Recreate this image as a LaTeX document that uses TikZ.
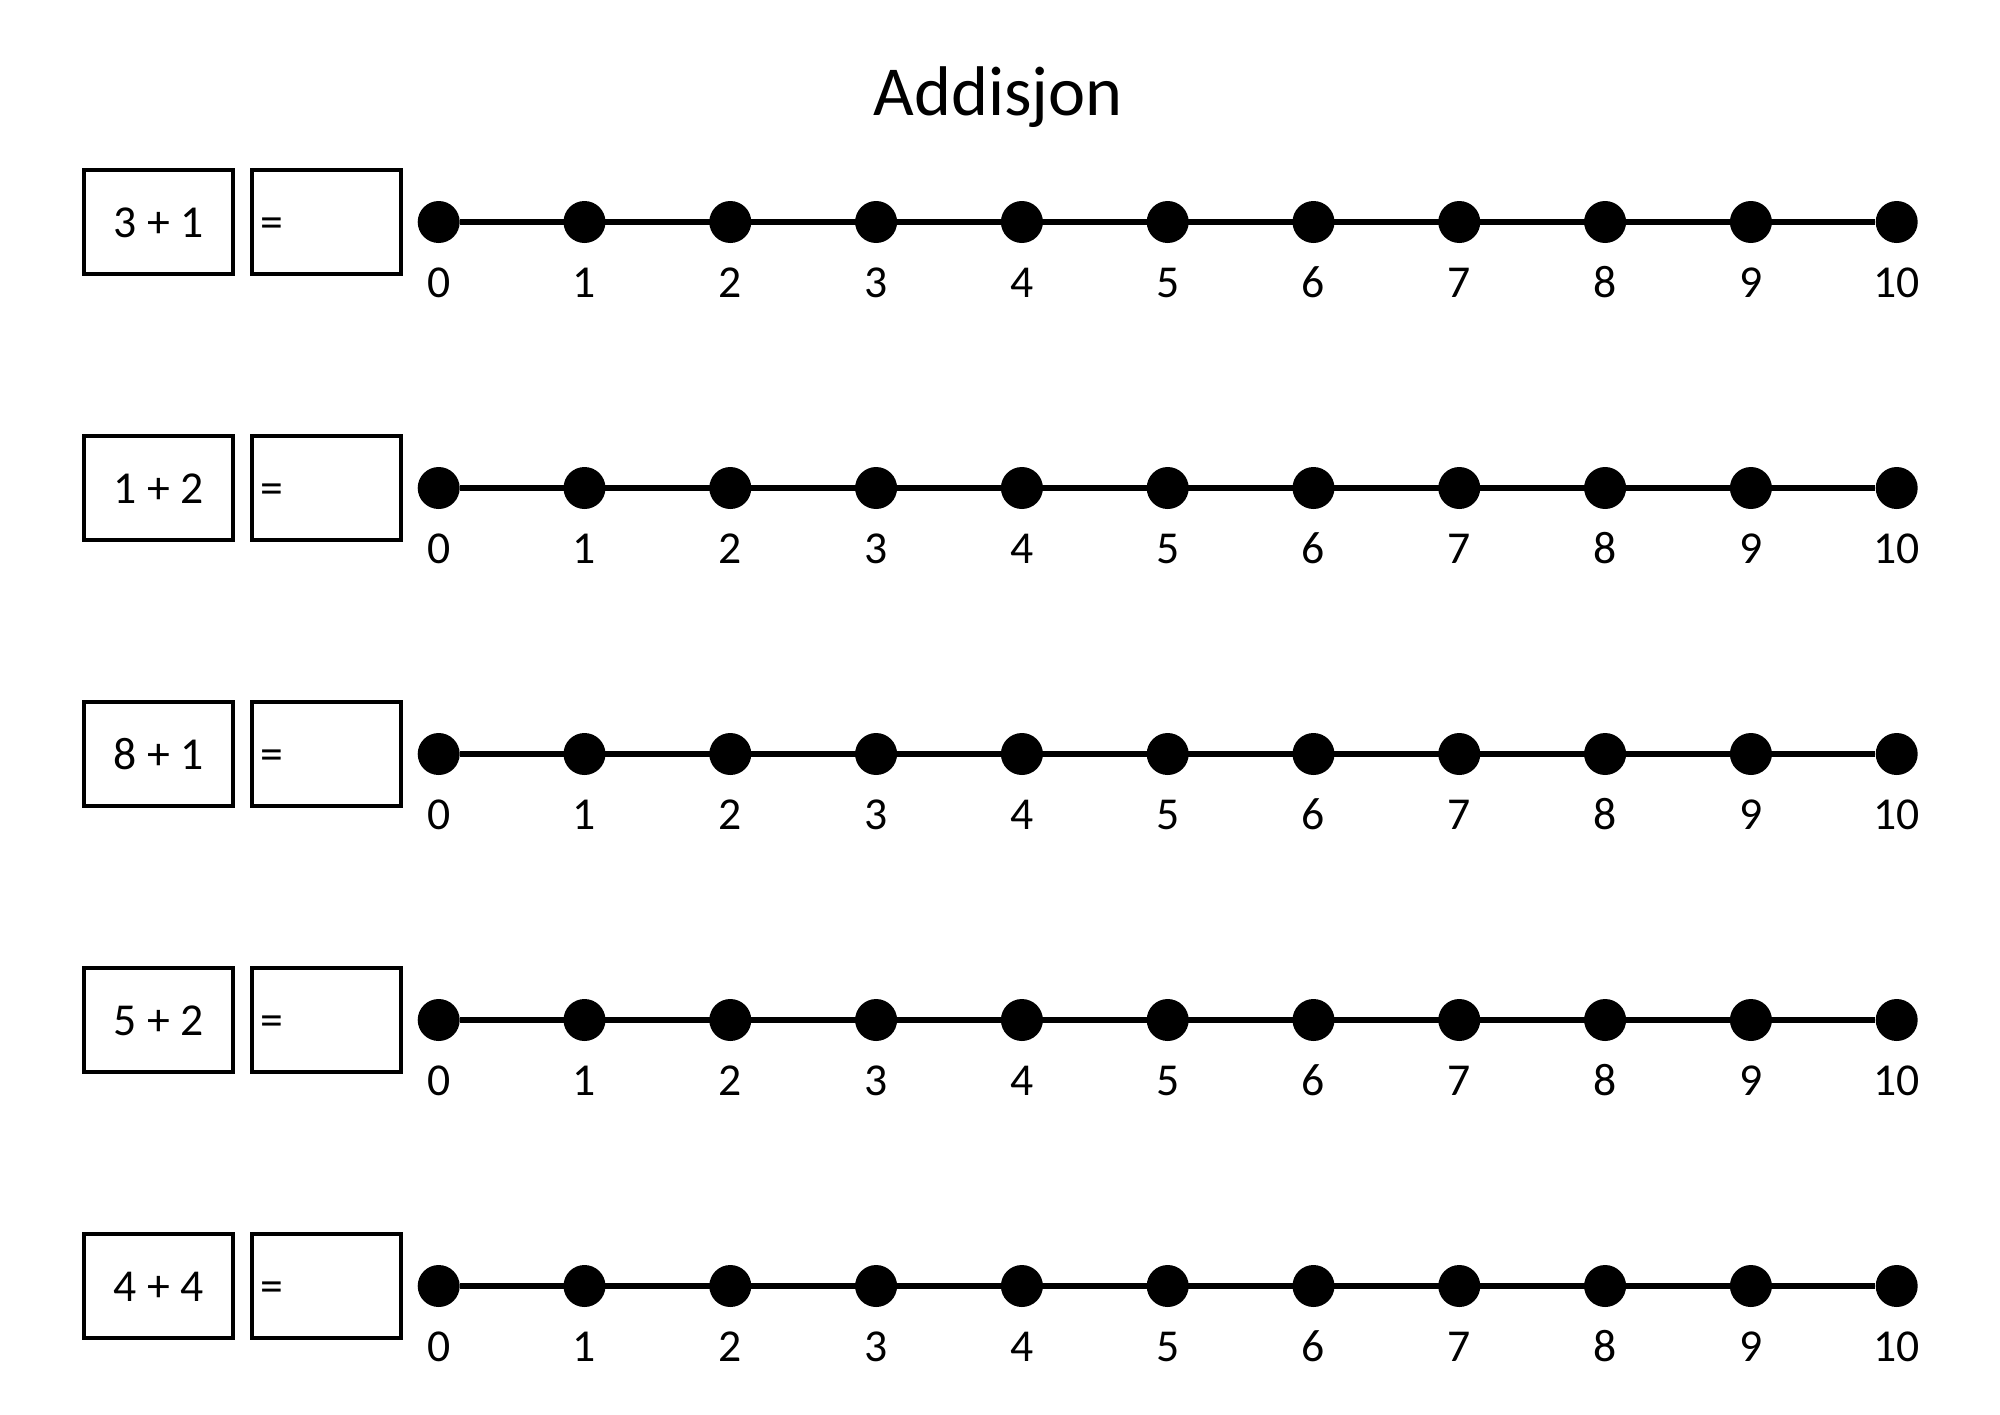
\documentclass[tikz,border=0pt]{standalone}
\usepackage{fontspec}
\setmainfont{Carlito}
\usetikzlibrary{positioning}

\begin{document}
\begin{tikzpicture}[
  taskbox/.style={draw, line width=0.9pt, minimum width=1.49cm, minimum height=1.04cm, inner sep=0pt, text height=8.6pt, text depth=0pt, font=\fontsize{13}{15}\selectfont},
  answerbox/.style={draw, line width=0.9pt, text width=1.33cm, inner xsep=0.8mm, inner ysep=0pt, minimum height=1.04cm, text height=8.6pt, text depth=0pt, align=left, font=\fontsize{13}{15}\selectfont},
  dot/.style={circle, fill=black, inner sep=0pt, minimum size=0.42cm},
  numline/.style={line width=1.9pt},
  numlabel/.style={inner sep=0pt, text height=8.3pt, text depth=0pt, font=\fontsize{13}{15}\selectfont}
]

\useasboundingbox (0,0) rectangle (20,-14.14);

\node[anchor=base, font=\fontsize{20}{24}\selectfont] (title) at (9.98,-1.157) {Addisjon};

\foreach \task [count=\i] in {3 + 1, 1 + 2, 8 + 1, 5 + 2, 4 + 4} {
  \pgfmathsetmacro\y{-2.22-2.66*(\i-1)}
  \node[taskbox] (t-\i) at (1.585,\y) {\task};
  \node[answerbox] (a-\i) at (3.265,\y) {=};
  \foreach \k in {0,...,10} {
    \node[dot] (d-\i-\k) at ({4.387+1.458*\k},\y) {};
    \node[numlabel, below=2.35mm of d-\i-\k] (n-\i-\k) {\k};
  }
  \draw[numline] (d-\i-0) -- (d-\i-10);
}

\end{tikzpicture}
\end{document}
